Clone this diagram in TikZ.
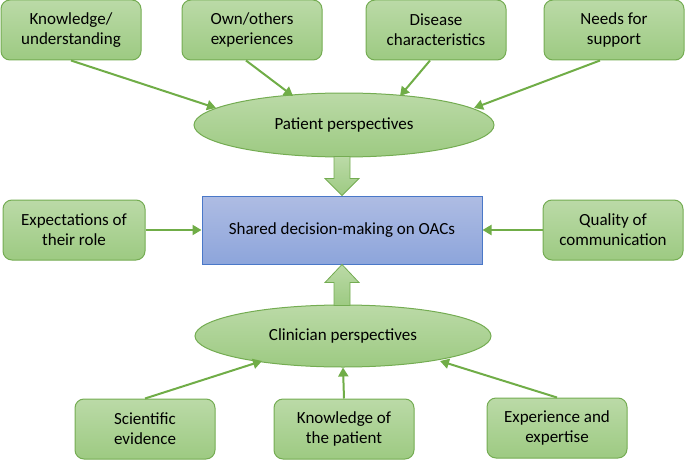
\documentclass[tikz,border=0pt]{standalone}
\usepackage{fontspec}
\setmainfont{Carlito}
\usetikzlibrary{calc,shapes.geometric,arrows.meta}
\definecolor{gborder}{HTML}{74AC52}
\definecolor{gtop}{HTML}{BBDAA7}
\definecolor{gbot}{HTML}{9DCA82}
\definecolor{garrow}{HTML}{70AD47}
\definecolor{btop}{HTML}{AEBCE3}
\definecolor{bbot}{HTML}{8DA5DB}
\definecolor{bborder}{HTML}{4A78C8}
\tikzset{
  gbox/.style={draw=gborder, line width=1pt, rounded corners=9pt, top color=gtop, bottom color=gbot,
    minimum width=140pt, minimum height=60pt, inner sep=0pt, align=center,
    font=\fontsize{17}{20}\selectfont},
  gell/.style={ellipse, draw=gborder, line width=1pt, top color=gtop, bottom color=gbot,
    minimum width=300pt, minimum height=64pt, inner sep=0pt, font=\fontsize{17}{20}\selectfont},
  bbox/.style={draw=bborder, line width=1pt, top color=btop, bottom color=bbot,
    minimum width=280pt, minimum height=68pt, inner sep=0pt, font=\fontsize{17}{20}\selectfont},
  conn/.style={draw=garrow, line width=2pt, -{Triangle[length=9pt,width=10pt]}},
  blockarr/.style={draw=gborder, line width=0.8pt, top color=gtop, bottom color=gbot}
}
\begin{document}
\begin{tikzpicture}[x=1pt,y=-1pt]
\useasboundingbox (0,0) rectangle (685,460);
% top row
\node[gbox] (k) at (71,30) {Knowledge/\\understanding};
\node[gbox] (o) at (252,30) {Own/others\\experiences};
\node[gbox] (d) at (436,30) {Disease\\characteristics};
\node[gbox] (n) at (614,30) {Needs for\\support};
% patient ellipse
\node[gell] (pp) at (344,125) {Patient perspectives};
% central
\node[bbox] (sd) at (342,230) {Shared decision-making on OACs};
\node[gbox, minimum width=142pt] (e) at (74,230) {Expectations of\\their role};
\node[gbox] (q) at (613,230) {Quality of\\communication};
% clinician ellipse
\node[gell, minimum width=296pt, minimum height=62pt] (cp) at (343,336) {Clinician perspectives};
% bottom row
\node[gbox] (s) at (145,429) {Scientific\\evidence};
\node[gbox] (kp) at (344,429) {Knowledge of\\the patient};
\node[gbox] (ex) at (557,428) {Experience and\\expertise};
% connectors top
\coordinate (pk) at (216,108);
\coordinate (po) at (293,96);
\coordinate (pd) at (400,96);
\coordinate (pn) at (474,108);
\draw[conn] ($(k.south)+(0,0)$) -- (pk);
\draw[conn] ($(o.south)+(-6,0)$) -- (po);
\draw[conn] ($(d.south)+(-6,0)$) -- (pd);
\draw[conn] ($(n.south)+(-14,0)$) -- (pn);
% side connectors
\draw[conn] (e.east) -- (sd.west);
\draw[conn] (q.west) -- (sd.east);
% bottom connectors
\coordinate (cs) at (262,361);
\coordinate (ce) at (440,361);
\draw[conn] (s.north) -- (cs);
\draw[conn] (kp.north) -- (cp.south);
\draw[conn] (ex.north) -- (ce);
% block arrows
\coordinate (t1) at (sd.north);
\coordinate (b1) at (t1 |- pp.south);
\draw[blockarr] ($(b1)+(-8,-1)$) -- ($(b1)+(8,-1)$) -- ($(t1)+(8,-17)$) -- ($(t1)+(17,-17)$) -- (t1)
  -- ($(t1)+(-17,-17)$) -- ($(t1)+(-8,-17)$) -- cycle;
\coordinate (t2) at (sd.south);
\coordinate (b2) at (t2 |- cp.north);
\draw[blockarr] ($(b2)+(-8,1)$) -- ($(b2)+(8,1)$) -- ($(t2)+(8,18)$) -- ($(t2)+(17,18)$) -- (t2)
  -- ($(t2)+(-17,18)$) -- ($(t2)+(-8,18)$) -- cycle;
\end{tikzpicture}
\end{document}
